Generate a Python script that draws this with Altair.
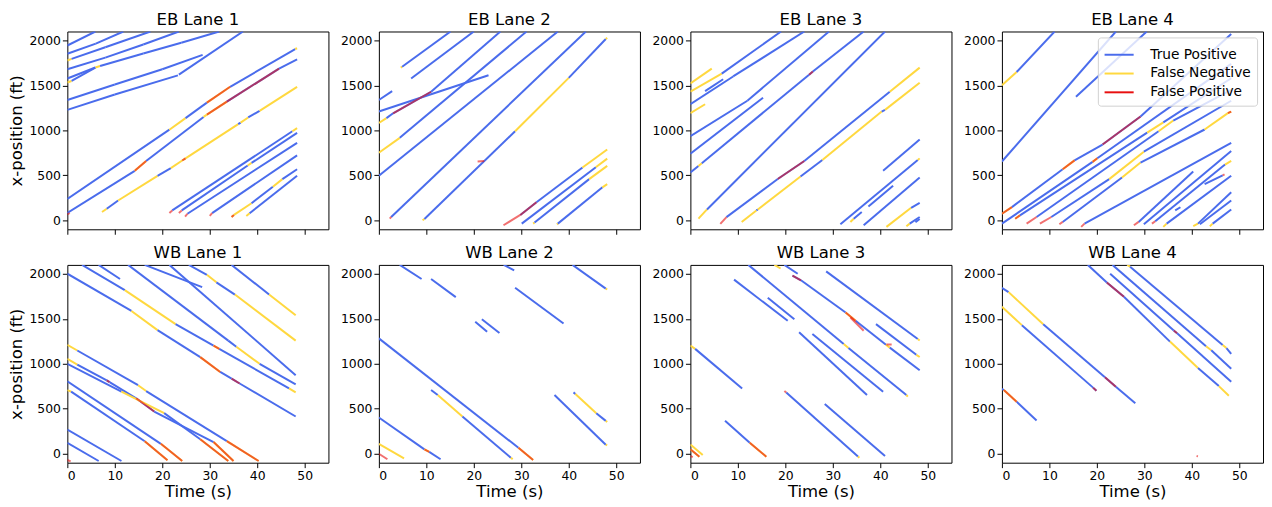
import altair as alt
import pandas as pd

# Each track: list of (time s, position ft, status of the segment that starts here)
# T = true positive, N = false negative, F = false positive,
# NF = false negative with false positive overlaid, TF = true positive with false positive overlaid
EB1 = [
    [(0, 1944, 'T'), (5.9, 2100, '')],
    [(0, 1852, 'T'), (6, 1965, 'T'), (11.8, 2100, '')],
    [(0, 1778, 'N'), (0.9, 1795, 'T'), (8, 1925, 'T'), (17.5, 2100, '')],
    [(0, 1680, 'T'), (8, 1810, 'T'), (16, 1955, 'T'), (23.5, 2100, '')],
    [(0, 1577, 'T'), (5.9, 1700, 'N'), (6.9, 1716, 'T'), (16, 1855, 'T'), (24, 1975, 'T'), (32, 2100, '')],
    [(0, 1533, 'N'), (0.9, 1550, 'T'), (5.9, 1698, '')],
    [(0, 1338, 'T'), (10, 1510, 'T'), (20, 1680, 'T'), (28.5, 1840, '')],
    [(0, 1228, 'T'), (10, 1400, 'T'), (23.3, 1612, '')],
    [(23.5, 1620, 'T'), (37, 2100, '')],
    [(0, 238, 'T'), (21.5, 1008, 'N'), (24.9, 1137, 'T'), (29.4, 1309, 'NF'), (34.3, 1485, 'T'),
     (48, 1905, 'N'), (48.4, 1914, '')],
    [(0, 65, 'F'), (0.5, 81, '')],
    [(0, 81, 'T'), (14.2, 550, 'NF'), (16.6, 660, 'T'), (28.7, 1150, 'N'), (29.4, 1175, 'NF'),
     (33.6, 1320, 'TF'), (44.6, 1687, 'T'), (48.4, 1790, '')],
    [(7.3, 92, 'N'), (8.3, 128, 'T'), (10.7, 220, 'N'), (19, 495, 'T'), (21.8, 580, 'N'), (24.2, 665, 'NF'),
     (24.9, 688, 'N'), (36, 1070, 'T'), (36.5, 1087, 'N'), (38.1, 1144, 'T'), (40.5, 1217, 'N'), (48.4, 1485, '')],
    [(21.5, 82, 'F'), (22.1, 110, 'T'), (47.4, 990, 'N'), (48.4, 1025, '')],
    [(23.5, 82, 'F'), (24.1, 110, 'T'), (38, 610, 'N'), (38.8, 638, 'T'), (48.4, 972, '')],
    [(24.8, 40, 'F'), (25.3, 73, 'T'), (48.4, 862, '')],
    [(30.0, 50, 'F'), (30.5, 80, 'T'), (48.4, 722, '')],
    [(34.6, 37, 'NF'), (35.1, 60, 'N'), (38.8, 190, 'T'), (43.3, 374, 'N'), (45.3, 458, 'T'), (48.4, 568, '')],
    [(37.7, 48, 'N'), (38.4, 78, 'T'), (48.4, 495, '')],
]

EB2 = [
    [(0, 1338, 'T'), (2.8, 1437, '')],
    [(0, 1210, 'T'), (23.1, 1613, '')],
    [(4.6, 1698, 'N'), (4.9, 1708, 'T'), (15.1, 2100, '')],
    [(6.8, 1577, 'T'), (20, 2100, '')],
    [(0, 1082, 'N'), (1.6, 1137, 'T'), (3.0, 1190, 'TF'), (11, 1430, 'T'), (25.6, 2100, '')],
    [(0, 752, 'N'), (4.4, 917, 'T'), (31.1, 2100, '')],
    [(0, 495, 'T'), (37.7, 2100, '')],
    [(2.3, 18, 'F'), (2.6, 37, 'T'), (43.6, 2100, '')],
    [(9.2, 0, 'N'), (9.6, 15, 'T'), (28.7, 990, 'N'), (40, 1584, 'T'), (47.8, 2017, 'N'), (48.1, 2030, '')],
    [(20.8, 655, 'F'), (22.2, 660, '')],
    [(26.25, -55, 'F'), (29.8, 60, '')],
    [(29.8, 60, 'TF'), (33.2, 200, 'T'), (42.9, 587, 'N'), (48.1, 788, '')],
    [(30.1, -37, 'T'), (45.7, 590, 'N'), (48.1, 686, '')],
    [(32.5, -37, 'N'), (32.8, -25, 'T'), (44.3, 458, 'N'), (48.1, 605, '')],
    [(37.5, -45, 'N'), (37.7, -37, 'T'), (47.1, 367, 'N'), (48.1, 403, '')],
]

EB3 = [
    [(0, 1522, 'N'), (4.5, 1687, '')],
    [(0, 1430, 'N'), (6.6, 1632, 'T'), (19.1, 2100, '')],
    [(3.1, 1437, 'T'), (6.9, 1569, '')],
    [(0, 1291, 'T'), (9, 1600, 'T'), (24, 2100, '')],
    [(0, 1192, 'N'), (3.1, 1291, '')],
    [(0, 935, 'T'), (12, 1330, 'T'), (29.2, 2100, '')],
    [(0, 741, 'T'), (15.3, 1364, '')],
    [(0, 532, 'T'), (1.7, 605, 'N'), (2.4, 635, 'T'), (25, 1620, 'TF'), (25.8, 1655, 'T'), (36.5, 2100, '')],
    [(1.7, 18, 'N'), (3.5, 121, 'T'), (41, 2100, '')],
    [(6.3, -40, 'F'), (7.6, 35, 'T'), (18.4, 460, 'TF'), (24, 660, 'T'), (42, 1430, 'N'), (48.3, 1698, '')],
    [(10.8, -18, 'N'), (13.9, 110, 'T'), (14.2, 120, 'N'), (23.2, 488, 'T'), (27.8, 671, 'N'), (40.3, 1210, 'T'),
     (41, 1228, 'N'), (48.3, 1529, '')],
    [(40.6, 550, 'T'), (48.3, 898, '')],
    [(31.6, -44, 'T'), (47.9, 670, 'N'), (48.3, 689, '')],
    [(33.7, -18, 'N'), (34.4, 18, 'T'), (36.1, 92, '')],
    [(37.5, 154, 'T'), (42.7, 385, '')],
    [(36.5, -55, 'T'), (48.3, 477, '')],
    [(41.3, -73, 'N'), (46.5, 139, 'T'), (48.3, 194, '')],
    [(45.5, -66, 'N'), (46.2, -37, 'T'), (48.3, 37, '')],
    [(47.4, -20, 'T'), (48.3, 15, '')],
]

EB4 = [
    [(0, 1503, 'N'), (3.1, 1650, 'T'), (11.1, 2100, '')],
    [(0, 654, 'T'), (24, 2100, '')],
    [(15.6, 1375, 'T'), (30.5, 2100, '')],
    [(0, 73, 'NF'), (2.1, 147, 'T'), (12.8, 568, 'NF'), (15.3, 667, 'T'), (21.2, 843, 'TF'), (29.2, 1155, 'T'),
     (48.3, 2072, '')],
    [(0, -37, 'T'), (19.1, 650, 'NF'), (20.1, 690, 'T'), (48.3, 1740, '')],
    [(2.8, 18, 'NF'), (3.8, 55, 'T'), (30.6, 975, 'N'), (34, 1090, 'T'), (48.3, 1580, '')],
    [(5.2, -37, 'F'), (7.3, 37, 'T'), (33, 990, 'N'), (36.1, 1110, 'T'), (48.3, 1450, '')],
    [(8, -37, 'F'), (10.4, 37, 'T'), (22.6, 458, 'N'), (29.9, 763, 'T'), (48.3, 1330, '')],
    [(12.1, -44, 'F'), (12.8, -18, 'T'), (25.3, 477, 'N'), (29.2, 642, 'T'), (42.7, 1010, 'N'), (47.6, 1192, 'NF'),
     (48.3, 1210, '')],
    [(16.7, -73, 'F'), (17.4, -37, 'T'), (48.3, 862, '')],
    [(27.8, -55, 'F'), (28.8, -18, 'T'), (40.3, 543, '')],
    [(29.9, -44, 'T'), (48.3, 770, '')],
    [(31.6, -37, 'F'), (32.3, -10, 'T'), (47, 620, 'N'), (48.3, 660, '')],
    [(34, -73, 'N'), (34.7, -37, 'T'), (48.3, 495, '')],
    [(36.5, 110, 'T'), (37.6, 145, '')],
    [(42.7, 403, 'T'), (46.5, 500, 'F'), (46.9, 512, '')],
    [(40.3, -66, 'N'), (41.3, -37, 'T'), (48.3, 312, '')],
    [(41.7, -44, 'T'), (48.3, 220, '')],
    [(43.8, -66, 'N'), (44.4, -37, 'T'), (48.3, 121, '')],
]

WB1 = [
    [(0, 2002, 'T'), (13.5, 1588, 'N'), (19.0, 1375, 'T'), (28.0, 1074, 'NF'), (32.2, 909, 'T'), (34.6, 836, 'TF'),
     (36.3, 781, 'T'), (48.1, 414, '')],
    [(3.1, 2100, 'T'), (12.1, 1819, 'N'), (22.8, 1441, 'T'), (30.8, 1203, 'NF'), (32, 1166, 'T'), (46.7, 726, 'N'),
     (48.1, 682, '')],
    [(6.6, 2100, 'T'), (11.1, 1943, '')],
    [(12.8, 2100, 'T'), (33.9, 1258, 'T'), (35.6, 1190, 'N'), (40.5, 1000, 'T'), (48.1, 770, '')],
    [(16.3, 2100, 'T'), (28.4, 1852, '')],
    [(21.5, 2100, 'T'), (48.1, 873, '')],
    [(25.6, 2100, 'T'), (29.4, 1990, 'N'), (31.4, 1906, 'T'), (35.3, 1770, 'N'), (48.1, 1258, '')],
    [(34.6, 2100, 'T'), (42.5, 1771, 'N'), (48.1, 1540, '')],
    [(0, 1210, 'N'), (2.1, 1148, 'T'), (14.9, 762, 'N'), (16.6, 697, 'T'), (33.6, 139, 'NF'), (40.3, -81, '')],
    [(0, 1056, 'N'), (2.1, 990, 'T'), (8.3, 815, 'TF'), (8.9, 797, 'T'), (14.5, 616, 'TF'), (18.3, 469, 'T'),
     (30.8, 130, 'NF'), (35, -81, '')],
    [(0, 1000, 'T'), (11.4, 690, 'N'), (20.4, 451, 'T'), (28, 160, 'NF'), (33.9, -81, '')],
    [(0, 708, 'N'), (0.8, 690, 'T'), (16.3, 139, 'NF'), (21.1, -73, '')],
    [(0, 806, 'T'), (19.7, 110, 'NF'), (24.2, -81, '')],
    [(0, 268, 'T'), (11.4, -81, '')],
    [(0, 121, 'T'), (6.6, -81, '')],
    [(0, -70, 'F'), (0.7, -85, '')],
]

WB2 = [
    [(4.4, 2100, 'T'), (9.0, 1943, '')],
    [(11, 1943, 'T'), (16.2, 1742, '')],
    [(26.3, 2100, 'T'), (28.5, 2039, '')],
    [(40.8, 2100, 'T'), (47.8, 1836, 'N'), (48.1, 1826, '')],
    [(28.7, 1845, 'T'), (38.9, 1448, '')],
    [(20.3, 1467, 'T'), (22.8, 1357, '')],
    [(21.7, 1496, 'T'), (25.4, 1342, '')],
    [(0, 1283, 'T'), (29.4, 66, 'NF'), (32.5, -70, '')],
    [(11, 708, 'T'), (12.4, 653, 'N'), (17.6, 414, 'T'), (27.8, -45, 'N'), (28.2, -60, '')],
    [(0, 403, 'T'), (9.6, 48, 'NF'), (10.6, 20, 'T'), (13, -62, '')],
    [(0, 110, 'N'), (5.3, -51, '')],
    [(0, 0, 'F'), (1.8, -62, '')],
    [(37, 653, 'T'), (47.8, 100, 'N'), (48.1, 92, '')],
    [(41, 682, 'T'), (41.4, 665, 'N'), (45.8, 451, 'T'), (47.8, 365, 'N'), (48.1, 352, '')],
]

WB3 = [
    [(0, 1203, 'N'), (1, 1166, 'T'), (10.9, 726, '')],
    [(9.2, 1936, 'T'), (20.5, 1478, '')],
    [(16.3, 1734, 'T'), (21.9, 1496, '')],
    [(12.2, 2100, 'T'), (32.3, 1221, 'N'), (33.3, 1176, 'T'), (45.5, 653, 'N'), (45.8, 635, '')],
    [(17.7, 2100, 'N'), (19.0, 2060, '')],
    [(19.8, 2100, 'T'), (22.6, 2002, '')],
    [(21.5, 1980, 'TF'), (23.3, 1929, 'T'), (32.7, 1570, 'NF'), (34.8, 1478, 'T'), (41.2, 1212, 'N'),
     (42, 1180, 'T'), (48.3, 928, '')],
    [(33.7, 1515, 'F'), (36.5, 1368, '')],
    [(41.3, 1214, 'F'), (42.4, 1214, '')],
    [(28.6, 2028, 'T'), (47.9, 1276, 'N'), (48.3, 1260, '')],
    [(39.1, 1441, 'T'), (47.6, 1100, 'N'), (48.3, 1075, '')],
    [(22.9, 1350, 'T'), (37.2, 653, '')],
    [(25.7, 1331, 'T'), (40.6, 690, '')],
    [(19.8, 697, 'F'), (20.2, 680, 'T'), (35.3, -30, 'N'), (35.6, -44, '')],
    [(28.3, 553, 'T'), (41, -26, '')],
    [(7.3, 367, 'T'), (12.5, 121, 'NF'), (16, -33, '')],
    [(0, 103, 'N'), (2.6, -15, '')],
    [(0, 48, 'NF'), (1.9, -33, '')],
    [(0, -25, 'F'), (0.5, -37, '')],
]

WB4 = [
    [(0, 1845, 'T'), (1.4, 1797, 'N'), (8.7, 1441, 'T'), (21.7, 850, 'TF'), (24, 745, 'T'), (28.1, 561, '')],
    [(0, 1635, 'N'), (4.2, 1430, 'T'), (19.2, 735, 'TF'), (19.9, 700, '')],
    [(0, 720, 'T'), (0.4, 708, 'NF'), (3.1, 579, 'T'), (7.3, 370, '')],
    [(18.1, 2100, 'T'), (22.1, 1905, 'TF'), (25.7, 1745, 'T'), (35.4, 1247, 'N'), (41.3, 953, 'T'),
     (45.7, 752, 'N'), (47.8, 645, '')],
    [(22.8, 2002, 'T'), (36.2, 1370, 'TF'), (36.9, 1340, 'T'), (48.3, 800, '')],
    [(23.3, 2100, 'T'), (43, 1195, 'N'), (44.1, 1150, 'T'), (48.3, 946, '')],
    [(26.4, 2100, 'N'), (27, 2080, 'T'), (46.5, 1210, 'N'), (47.3, 1175, 'T'), (48.3, 1111, '')],
    [(41.0, -26, 'F'), (41.3, -30, '')],
]

PANELS = [("EB Lane 1", EB1), ("EB Lane 2", EB2), ("EB Lane 3", EB3), ("EB Lane 4", EB4),
          ("WB Lane 1", WB1), ("WB Lane 2", WB2), ("WB Lane 3", WB3), ("WB Lane 4", WB4)]

CATS = ["True Positive", "False Negative", "False Positive"]
COLORS = ["#4a6cec", "#ffd83f", "#e81010"]
X_TICKS = [0, 10, 20, 30, 40, 50]
Y_TICKS = [0, 500, 1000, 1500, 2000]
FONT = "DejaVu Sans"


def to_frame(tracks):
    base, over = [], []
    for tr in tracks:
        for (t0, x0, s), (t1, x1, _) in zip(tr[:-1], tr[1:]):
            if s in ("T", "TF"):
                base.append((t0, x0, t1, x1, "True Positive"))
            if s in ("N", "NF"):
                base.append((t0, x0, t1, x1, "False Negative"))
            if s in ("F", "NF", "TF"):
                over.append((t0, x0, t1, x1, "False Positive"))
    return pd.DataFrame(base + over, columns=["t0", "x0", "t1", "x1", "cat"])


W, H = 264, 200


def panel(i, name, tracks):
    row, col = divmod(i, 4)
    bottom = row == 1
    if i == 3:
        legend = alt.Legend(title=None, orient="top-right", offset=6, padding=6,
                            symbolType="M-1.4,0H1.4", symbolStrokeWidth=2, symbolSize=441,
                            symbolOffset=4, labelOffset=20,
                            labelFontSize=13.9, labelFont=FONT, labelColor="#000",
                            rowPadding=0,
                            fillColor="rgba(255,255,255,0.8)", strokeColor="#d0d0d0",
                            cornerRadius=3, symbolOpacity=1)
    else:
        legend = None
    return alt.Chart(to_frame(tracks)).mark_rule(strokeWidth=2, clip=True).encode(
        x=alt.X("t0:Q", scale=alt.Scale(domain=[0, 55], nice=False, zero=False),
                axis=alt.Axis(values=X_TICKS, labels=bottom, title="Time (s)" if bottom else None,
                              grid=False, domain=False, tickSize=5, tickColor="#000",
                              labelFontSize=12.5, labelFont=FONT, labelColor="#000", labelPadding=2,
                              titleFontSize=16.7, titleFont=FONT, titleFontWeight="normal",
                              titleColor="#000", titlePadding=2)),
        x2="t1:Q",
        y=alt.Y("x0:Q", scale=alt.Scale(domain=[-100, 2100], nice=False, zero=False),
                axis=alt.Axis(values=Y_TICKS, format="d", title="x-position (ft)" if col == 0 else None,
                              grid=False, domain=False, tickSize=5, tickColor="#000",
                              labelFontSize=12.5, labelFont=FONT, labelColor="#000", labelPadding=2,
                              minExtent=38, maxExtent=38,
                              titleFontSize=16.7, titleFont=FONT, titleFontWeight="normal",
                              titleColor="#000", titlePadding=4)),
        y2="x1:Q",
        color=alt.Color("cat:N", scale=alt.Scale(domain=CATS, range=COLORS), legend=legend),
        opacity=alt.condition(alt.datum.cat == "False Positive", alt.value(0.6), alt.value(1.0)),
    ).properties(
        width=W, height=H,
        title=alt.TitleParams(name, fontSize=16.7, font=FONT, fontWeight="normal", color="#000", offset=3),
    )


charts = [panel(i, n, d) for i, (n, d) in enumerate(PANELS)]
row1 = alt.hconcat(*charts[:4], spacing=10).resolve_scale(color="independent").resolve_legend(color="independent")
row2 = alt.hconcat(*charts[4:], spacing=10).resolve_scale(color="independent").resolve_legend(color="independent")
chart = alt.vconcat(row1, row2, spacing=9).resolve_scale(color="independent").resolve_legend(
    color="independent").properties(padding=0, background="white").configure_view(stroke="#000", strokeWidth=1)

chart.save("out.html", embed_options={"renderer": "svg", "actions": False})
